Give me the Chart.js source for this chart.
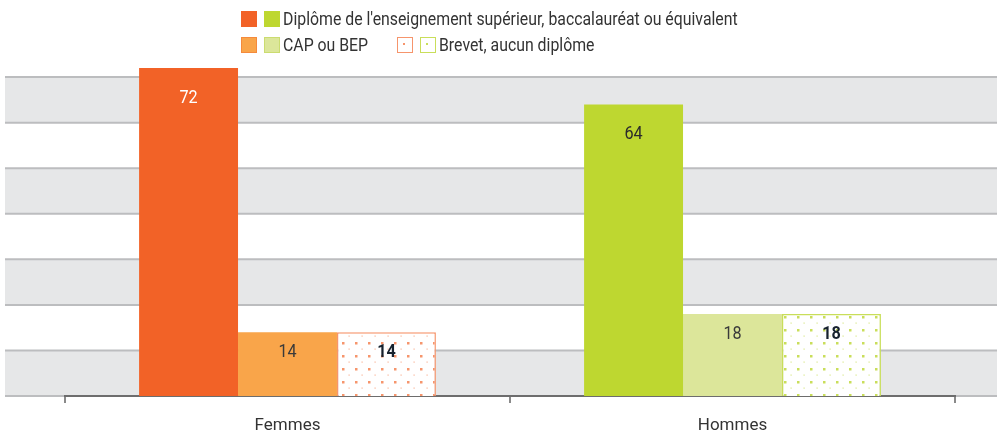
<!DOCTYPE html>
<html><head><meta charset="utf-8">
<script src="https://cdn.jsdelivr.net/npm/chart.js@4/dist/chart.umd.min.js"></script>
<style>
html,body{margin:0;padding:0;background:#fff;overflow:hidden;}
#wrap{position:relative;width:997px;height:431px;overflow:hidden;font-family:Roboto,sans-serif;color:#333;}
canvas{position:absolute;left:0;top:0;}
.lg{position:absolute;font-size:17.5px;line-height:20px;white-space:nowrap;transform:scaleX(0.905);transform-origin:0 50%;}
.sw{position:absolute;width:16px;height:16px;box-sizing:border-box;}
.dot{background:#fff;}
</style></head><body>
<div id="wrap">
<canvas id="c" width="997" height="431"></canvas>
<div class="sw" style="left:241px;top:11px;background:#F26227"></div>
<div class="sw" style="left:264px;top:11px;background:#BED730"></div>
<div class="lg" style="left:283px;top:9px">Diplôme de l'enseignement supérieur, baccalauréat ou équivalent</div>
<div class="sw" style="left:241px;top:37px;background:#F9A54A;border:1px solid #F58A3C"></div>
<div class="sw" style="left:264px;top:37px;background:#DCE69A;border:1px solid #CBDC70"></div>
<div class="lg" style="left:283px;top:35px">CAP ou BEP</div>
<div class="sw dot" style="left:397px;top:37px;border:1.5px solid #F6956C"><span style="position:absolute;left:5px;top:5px;width:2px;height:2px;background:#F6956C"></span></div>
<div class="sw dot" style="left:420px;top:37px;border:1.5px solid #C9DE5A"><span style="position:absolute;left:5px;top:5px;width:2px;height:2px;background:#C9DE5A"></span></div>
<div class="lg" style="left:439px;top:35px">Brevet, aucun diplôme</div>
</div>
<script>
const categories = ["Femmes", "Hommes"];
const seriesNames = ["Diplôme de l'enseignement supérieur, baccalauréat ou équivalent", "CAP ou BEP", "Brevet, aucun diplôme"];
const superieur = [72, 64];
const capBep = [14, 18];
const brevet = [14, 18];
const yTicks = [0, 10, 20, 30, 40, 50, 60, 70];

const FONT = 'Roboto, sans-serif';

function dotPattern(color){
  const p = document.createElement('canvas');
  p.width = 13; p.height = 13;
  const g = p.getContext('2d');
  g.fillStyle = '#fff'; g.fillRect(0,0,13,13);
  g.fillStyle = color;
  g.fillRect(4,4,2.5,2.5);
  g.globalAlpha = 0.7;
  g.fillRect(10.5,10.5,1.2,1.2);
  const ctx = document.getElementById('c').getContext('2d');
  return ctx.createPattern(p,'repeat');
}

const bandsPlugin = {
  id:'bands',
  beforeDraw(chart){
    const {ctx, scales:{y}} = chart;
    ctx.save();
    for(let i=0;i<yTicks.length-1;i++){
      if(i%2===0){
        const t = y.getPixelForValue(yTicks[i+1]);
        const b = y.getPixelForValue(yTicks[i]);
        ctx.fillStyle = '#E6E7E8';
        ctx.fillRect(5, t, 992, b-t);
      }
    }
    ctx.strokeStyle = '#BCBDBF';
    ctx.lineWidth = 2;
    yTicks.forEach(v=>{
      const py = y.getPixelForValue(v);
      ctx.beginPath(); ctx.moveTo(5,py); ctx.lineTo(997,py); ctx.stroke();
    });
    ctx.restore();
  }
};

const labelPlugin = {
  id:'vals',
  afterDatasetsDraw(chart){
    const {ctx} = chart;
    const styles = [
      {colors:['#ffffff','#2b2b2b'], weight:'normal', off:30},
      {colors:['#3a3a3a','#3a3a3a'], weight:'normal', off:20},
      {colors:['#17222e','#17222e'], weight:'bold', off:20}
    ];
    ctx.save();
    ctx.textAlign='center'; ctx.textBaseline='middle';
    chart.data.datasets.forEach((ds,di)=>{
      const meta = chart.getDatasetMeta(di);
      meta.data.forEach((bar,i)=>{
        const s = styles[di];
        ctx.fillStyle = s.colors[i];
        ctx.font = s.weight+' 18px '+FONT;
        ctx.save();
        ctx.translate(bar.x, bar.y + s.off);
        ctx.scale(0.9,1);
        ctx.fillText(String(ds.data[i]), 0, 0);
        ctx.restore();
      });
    });
    ctx.restore();
  }
};

new Chart(document.getElementById('c'), {
  type:'bar',
  data:{
    labels:categories,
    datasets:[
      {label:seriesNames[0], data:superieur, backgroundColor:['#F26227','#BED730'], borderWidth:0},
      {label:seriesNames[1], data:capBep, backgroundColor:['#F9A54A','#DCE69A'], borderWidth:0},
      {label:seriesNames[2], data:brevet, backgroundColor:[dotPattern('#F6956C'), dotPattern('#C9DE5A')], borderColor:['#F6956C','#C9DE5A'], borderWidth:1.5}
    ]
  },
  options:{
    responsive:false,
    animation:false,
    layout:{padding:{top:68,left:65,right:42,bottom:0}},
    datasets:{bar:{categoryPercentage:0.667, barPercentage:1}},
    plugins:{legend:{display:false}, tooltip:{enabled:false}},
    scales:{
      y:{display:false, min:0, max:72},
      x:{
        offset:true,
        afterFit(scale){ scale.height = 35; },
        grid:{offset:true, drawOnChartArea:false, drawTicks:true, tickLength:7, color:'#8a8a8a', lineWidth:2},
        border:{display:true, color:'#6d6d6d', width:2},
        ticks:{color:'#333', font:{family:FONT, size:17}, padding:13}
      }
    }
  },
  plugins:[bandsPlugin, labelPlugin]
});
</script>
</body></html>
